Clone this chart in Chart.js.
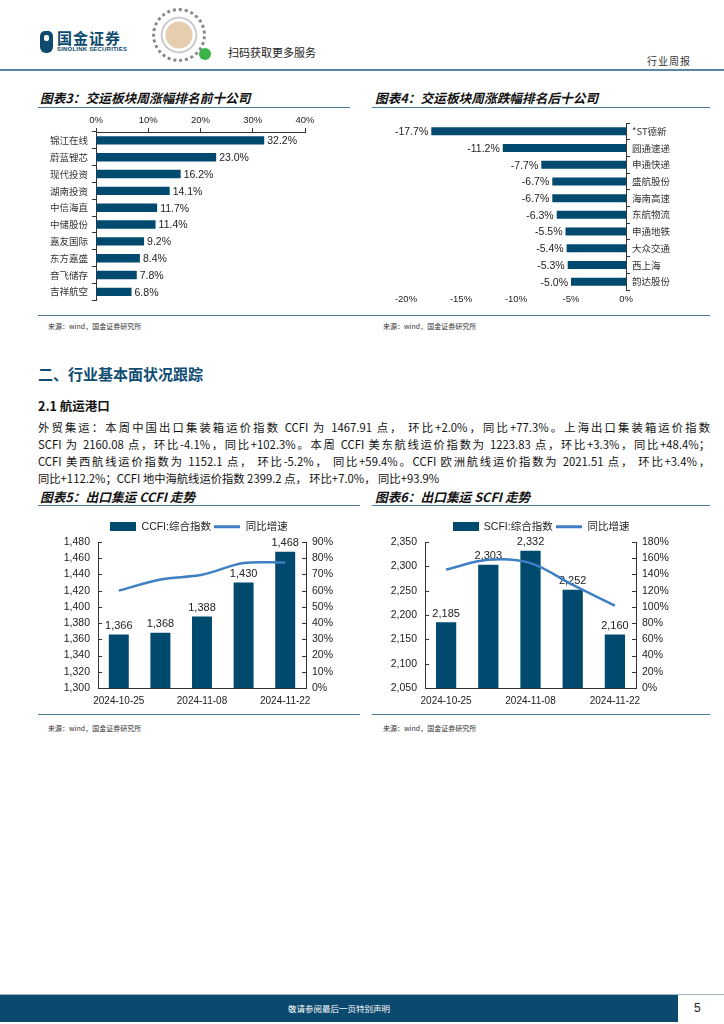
<!DOCTYPE html>
<html>
<head>
<meta charset="utf-8">
<script src="https://cdn.jsdelivr.net/npm/chart.js@4.4.1/dist/chart.umd.min.js"></script>
<style>
  body { margin: 0; background: #fff; }
  #page { position: relative; width: 724px; height: 1024px; overflow: hidden; font-family: "Noto Sans CJK SC", sans-serif; color: #111; }
  .abs { position: absolute; }
  .title { font-size: 12.7px; font-weight: bold; font-style: italic; white-space: nowrap; }
  .rule { position: absolute; height: 1px; background: #4f7d9c; }
  .src { font-size: 7px; color: #333; white-space: nowrap; }
  .line { position: absolute; left: 38px; width: 672px; height: 17px; line-height: 17px; font-size: 11.3px; color: #111; text-align: justify; text-align-last: justify; overflow: hidden; }
  canvas { position: absolute; }
</style>
</head>
<body>
<div id="page">
  <!-- header -->
  <div class="abs" style="left:40px;top:31px;width:13px;height:22px;background:#0c4a6e;border-radius:5px 5px 6px 6px;"></div>
  <div class="abs" style="left:44px;top:35px;width:5px;height:6px;background:#fff;border-radius:2px;"></div>
  <div class="abs" style="left:57px;top:27px;font-size:15px;font-weight:bold;color:#0c4a6e;letter-spacing:1px;">国金证券</div>
  <div class="abs" style="left:57px;top:46px;font-size:6px;font-weight:bold;color:#0c4a6e;font-family:'Liberation Sans';letter-spacing:0.2px;">SINOLINK SECURITIES</div>
  <div class="abs" style="left:152px;top:8px;width:54px;height:54px;border-radius:50%;border:3px dotted #888;box-sizing:border-box;background:radial-gradient(circle, #e6cdb0 0, #e6cdb0 13px, #fff 14px, #fff 16px, #bbb 17px, #fff 19px);"></div>
  <div class="abs" style="left:199px;top:48px;width:12px;height:12px;border-radius:50%;background:#3bb54a;"></div>
  <div class="abs" style="left:228px;top:44px;font-size:11px;color:#222;">扫码获取更多服务</div>
  <div class="abs" style="left:647px;top:53px;font-size:10px;color:#333;letter-spacing:1px;">行业周报</div>
  <div class="abs" style="left:0;top:69px;width:724px;height:2px;background:#5a87a6;"></div>

  <!-- charts 3 & 4 -->
  <div class="abs title" style="left:40px;top:88px;">图表3：交运板块周涨幅排名前十公司</div>
  <div class="rule" style="left:38px;top:107px;width:312px;"></div>
  <div class="abs title" style="left:375px;top:88px;">图表4：交运板块周涨跌幅排名后十公司</div>
  <div class="rule" style="left:372px;top:107px;width:338px;"></div>
  <canvas id="c3" width="300" height="200" style="left:38px;top:110px;"></canvas>
  <canvas id="c4" width="338" height="196" style="left:372px;top:110px;"></canvas>
  <div class="rule" style="left:38px;top:315px;width:672px;"></div>
  <div class="abs src" style="left:48px;top:321px;">来源：wind，国金证券研究所</div>
  <div class="abs src" style="left:383px;top:321px;">来源：wind，国金证券研究所</div>

  <!-- section text -->
  <div class="abs" style="left:38px;top:363px;font-size:15px;font-weight:bold;color:#0f4c72;">二、行业基本面状况跟踪</div>
  <div class="abs" style="left:38px;top:396px;font-size:12.5px;font-weight:bold;">2.1 航运港口</div>
  <div class="line" style="top:419px;">外贸集运：本周中国出口集装箱运价指数 CCFI 为 1467.91 点， 环比+2.0%，同比+77.3%。上海出口集装箱运价指数</div>
  <div class="line" style="top:436px;">SCFI 为 2160.08 点，环比-4.1%，同比+102.3%。本周 CCFI 美东航线运价指数为 1223.83 点，环比+3.3%，同比+48.4%；</div>
  <div class="line" style="top:453px;">CCFI 美西航线运价指数为 1152.1 点， 环比-5.2%， 同比+59.4%。CCFI 欧洲航线运价指数为 2021.51 点， 环比+3.4%，</div>
  <div class="line" style="top:470px;text-align-last:left;">同比+112.2%；CCFI 地中海航线运价指数 2399.2 点， 环比+7.0%， 同比+93.9%</div>

  <!-- charts 5 & 6 -->
  <div class="abs title" style="left:40px;top:487px;">图表5：出口集运 CCFI 走势</div>
  <div class="rule" style="left:38px;top:505px;width:322px;"></div>
  <div class="abs title" style="left:375px;top:487px;">图表6：出口集运 SCFI 走势</div>
  <div class="rule" style="left:372px;top:505px;width:338px;"></div>
  <canvas id="c5" width="322" height="190" style="left:38px;top:518px;"></canvas>
  <canvas id="c6" width="338" height="190" style="left:372px;top:518px;"></canvas>
  <div class="rule" style="left:38px;top:714px;width:322px;"></div>
  <div class="rule" style="left:372px;top:714px;width:338px;"></div>
  <div class="abs src" style="left:48px;top:723px;">来源：wind，国金证券研究所</div>
  <div class="abs src" style="left:383px;top:723px;">来源：wind，国金证券研究所</div>

  <!-- footer -->
  <div class="abs" style="left:0;top:994px;width:724px;height:1px;background:#9fb8c9;"></div>
  <div class="abs" style="left:0;top:995px;width:678px;height:27px;background:#0b4a6e;"></div>
  <div class="abs" style="left:0;top:995px;width:678px;line-height:27px;text-align:center;font-size:8.5px;color:#fff;">敬请参阅最后一页特别声明</div>
  <div class="abs" style="left:694px;top:1001px;font-size:12px;font-family:'Liberation Sans';color:#222;">5</div>
</div>

<script>
// 图表3 涨幅前十
const topNames = ["锦江在线", "蔚蓝锂芯", "现代投资", "湖南投资", "中信海直", "中储股份", "嘉友国际", "东方嘉盛", "音飞储存", "吉祥航空"];
const topChange = [32.2, 23.0, 16.2, 14.1, 11.7, 11.4, 9.2, 8.4, 7.8, 6.8];
const topTicks = [0, 10, 20, 30, 40];

// 图表4 涨跌幅后十
const bottomNames = ["*ST德新", "圆通速递", "申通快递", "盛航股份", "海南高速", "东航物流", "申通地铁", "大众交通", "西上海", "韵达股份"];
const bottomChange = [-17.7, -11.2, -7.7, -6.7, -6.7, -6.3, -5.5, -5.4, -5.3, -5.0];
const bottomTicks = [-20, -15, -10, -5, 0];

// 图表5/6 集运指数
const weekDates = ["2024-10-25", "2024-11-01", "2024-11-08", "2024-11-15", "2024-11-22"];
const ccfiIndex = [1366, 1368, 1388, 1430, 1468];
const ccfiYoy = [60.0, 66.9, 69.8, 77.0, 77.3];
const scfiIndex = [2185, 2303, 2332, 2252, 2160];
const scfiYoy = [146, 158, 154, 127, 101.5];

const barColor = "#004a70";
const lineColor = "#3f7fc4";
const axisColor = "#333";
const latin = '"Liberation Sans", "Noto Sans CJK SC", sans-serif';
const cjk = '"Noto Sans CJK SC", sans-serif';

Chart.defaults.font.family = latin;
Chart.defaults.color = "#222";
Chart.defaults.animation = false;

function valueLabels(fmt, font) {
    return {
        id: "valueLabels",
        afterDatasetDraw(chart, args) {
            if (args.meta.type !== "bar") return;
            const ctx = chart.ctx;
            const data = chart.data.datasets[args.index].data;
            ctx.save();
            ctx.font = font;
            ctx.fillStyle = "#222";
            args.meta.data.forEach((el, i) => {
                const v = data[i];
                const t = fmt(v);
                if (chart.options.indexAxis === "y") {
                    ctx.textBaseline = "middle";
                    if (v >= 0) { ctx.textAlign = "left"; ctx.fillText(t, el.x + 3, el.y + 1); }
                    else { ctx.textAlign = "right"; ctx.fillText(t, el.x - 3, el.y + 1); }
                } else {
                    ctx.textAlign = "center";
                    ctx.textBaseline = "bottom";
                    ctx.fillText(t, el.x, el.y - 3);
                }
            });
            ctx.restore();
        }
    };
}

// short tick marks pointing into the plot on both value axes
const innerTicks = {
    id: "innerTicks",
    afterDraw(chart) {
        const ctx = chart.ctx;
        ctx.save();
        ctx.strokeStyle = axisColor;
        ctx.lineWidth = 1;
        ["y", "y1"].forEach(id => {
            const s = chart.scales[id];
            const x0 = id === "y" ? s.right : s.left;
            const dir = id === "y" ? 1 : -1;
            s.ticks.forEach((t, i) => {
                const y = Math.round(s.getPixelForTick(i)) + 0.5;
                ctx.beginPath();
                ctx.moveTo(x0, y);
                ctx.lineTo(x0 + dir * 4, y);
                ctx.stroke();
            });
        });
        ctx.restore();
    }
};

function legendIcon(kind) {
    const c = document.createElement("canvas");
    c.width = 26;
    c.height = 9;
    const g = c.getContext("2d");
    if (kind === "bar") {
        g.fillStyle = barColor;
        g.fillRect(0, 0, 26, 9);
    } else {
        g.fillStyle = lineColor;
        g.fillRect(0, 3, 26, 3);
    }
    return c;
}
const barIcon = legendIcon("bar");
const lineIcon = legendIcon("line");

// 图表3
new Chart(document.getElementById("c3"), {
    type: "bar",
    data: {
        labels: topNames,
        datasets: [{ data: topChange, backgroundColor: barColor, barPercentage: 0.5, categoryPercentage: 1 }]
    },
    options: {
        indexAxis: "y",
        responsive: false,
        layout: { padding: { top: 0, right: 33, bottom: 7, left: 0 } },
        plugins: { legend: { display: false }, tooltip: { enabled: false } },
        scales: {
            x: {
                position: "top",
                min: 0, max: 40,
                afterBuildTicks: s => { s.ticks = topTicks.map(v => ({ value: v })); },
                afterFit: s => { s.height = 22; },
                border: { display: true, color: axisColor },
                grid: { drawOnChartArea: false, tickLength: 4, color: axisColor },
                ticks: { padding: 2, font: { size: 9.5 }, callback: v => v + "%" }
            },
            y: {
                afterFit: s => { s.width = 58; },
                border: { display: true, color: axisColor },
                grid: { drawOnChartArea: false, tickLength: 4, color: axisColor },
                ticks: { padding: 4, font: { size: 9.5, family: cjk }, color: "#333" }
            }
        }
    },
    plugins: [valueLabels(v => v.toFixed(1) + "%", "10.5px " + latin)]
});

// 图表4
new Chart(document.getElementById("c4"), {
    type: "bar",
    data: {
        labels: bottomNames,
        datasets: [{ data: bottomChange, backgroundColor: barColor, barPercentage: 0.48, categoryPercentage: 1 }]
    },
    options: {
        indexAxis: "y",
        responsive: false,
        layout: { padding: { top: 13, right: 0, bottom: 0, left: 34 } },
        plugins: { legend: { display: false }, tooltip: { enabled: false } },
        scales: {
            x: {
                min: -20, max: 0,
                afterBuildTicks: s => { s.ticks = bottomTicks.map(v => ({ value: v })); },
                afterFit: s => { s.height = 16; },
                border: { display: false },
                grid: { display: false, drawTicks: false },
                ticks: { padding: 4, font: { size: 9.5 }, callback: v => v + "%" }
            },
            y: {
                position: "right",
                afterFit: s => { s.width = 84; },
                border: { display: true, color: axisColor },
                grid: { drawOnChartArea: false, tickLength: 4, color: axisColor },
                ticks: { padding: 2, font: { size: 9.5, family: cjk }, color: "#333" }
            }
        }
    },
    plugins: [valueLabels(v => v.toFixed(1) + "%", "10.5px " + latin)]
});

function comboChart(id, barLabel, barData, yoyData, yMin, yMax, yStep, yoyMax, yoyStep, axisW) {
    return new Chart(document.getElementById(id), {
        type: "bar",
        data: {
            labels: weekDates,
            datasets: [
                { type: "bar", label: barLabel, data: barData, backgroundColor: barColor, barPercentage: 0.48, categoryPercentage: 1, yAxisID: "y", order: 1 },
                { type: "line", label: "同比增速", data: yoyData, borderColor: lineColor, borderWidth: 2.5, pointRadius: 0, tension: 0.35, yAxisID: "y1", order: 0 }
            ]
        },
        options: {
            responsive: false,
            layout: { padding: { top: 0, right: 0, bottom: 0, left: 0 } },
            plugins: {
                tooltip: { enabled: false },
                legend: {
                    position: "top",
                    labels: {
                        usePointStyle: true,
                        pointStyleWidth: 26,
                        boxHeight: 9,
                        padding: 3.5,
                        color: "#222",
                        font: { size: 10.5, family: latin },
                        generateLabels(chart) {
                            const items = Chart.defaults.plugins.legend.labels.generateLabels(chart);
                            items.sort((a, b) => a.datasetIndex - b.datasetIndex);
                            items.forEach(it => { it.pointStyle = it.datasetIndex === 0 ? barIcon : lineIcon; });
                            return items;
                        }
                    }
                }
            },
            scales: {
                x: {
                    afterFit: s => { s.height = 20; },
                    border: { display: true, color: axisColor },
                    grid: { display: false, drawTicks: false },
                    ticks: {
                        padding: 7, autoSkip: false, maxRotation: 0, font: { size: 10 },
                        callback: function (v, i) { return i % 2 === 0 ? this.getLabelForValue(v) : ""; }
                    }
                },
                y: {
                    position: "left",
                    min: yMin, max: yMax,
                    afterFit: s => { s.width = axisW[0]; },
                    border: { display: true, color: axisColor },
                    grid: { display: false, drawTicks: false },
                    ticks: { stepSize: yStep, padding: 8, font: { size: 10.5 }, callback: v => v.toLocaleString("en-US") }
                },
                y1: {
                    position: "right",
                    min: 0, max: yoyMax,
                    afterFit: s => { s.width = axisW[1]; },
                    border: { display: true, color: axisColor },
                    grid: { display: false, drawTicks: false },
                    ticks: { stepSize: yoyStep, padding: 6, font: { size: 10.5 }, callback: v => v + "%" }
                }
            }
        },
        plugins: [valueLabels(v => v.toLocaleString("en-US"), "11px " + latin), innerTicks]
    });
}

comboChart("c5", "CCFI:综合指数", ccfiIndex, ccfiYoy, 1300, 1480, 20, 90, 10, [60, 54]);
comboChart("c6", "SCFI:综合指数", scfiIndex, scfiYoy, 2050, 2350, 50, 180, 20, [53, 74]);
</script>
</body>
</html>
